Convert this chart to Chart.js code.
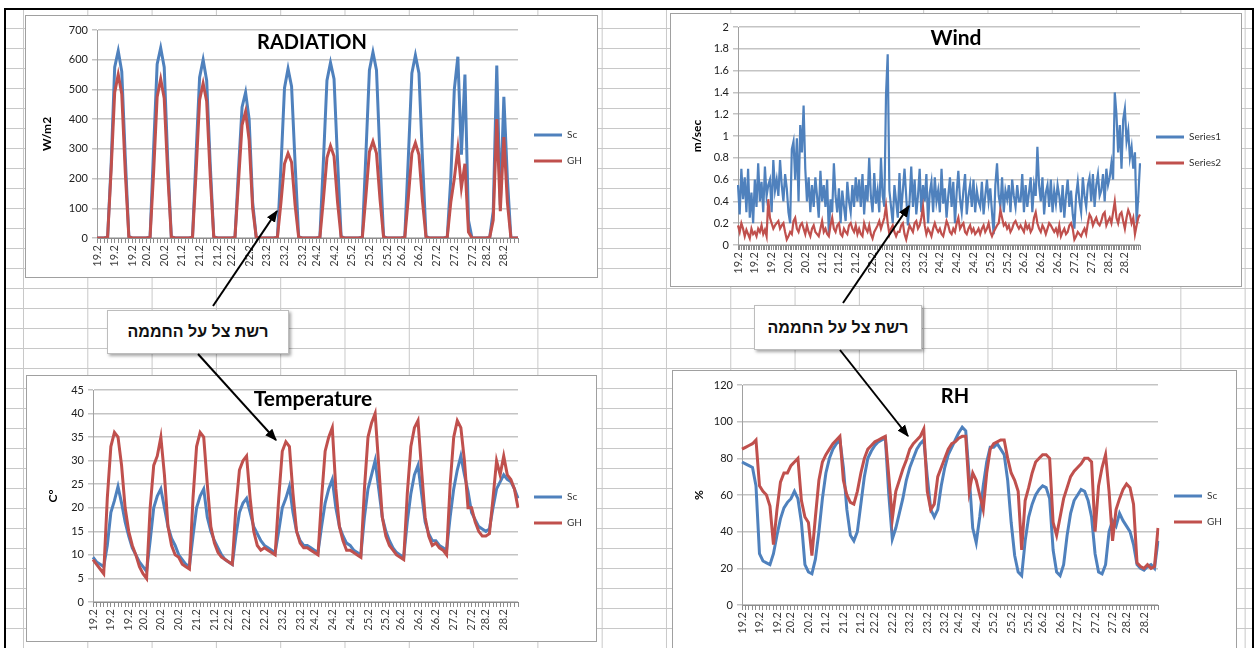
<!DOCTYPE html>
<html>
<head>
<meta charset="utf-8">
<script src="https://cdn.jsdelivr.net/npm/chart.js@4.4.1/dist/chart.umd.min.js"></script>
<style>
  html, body { margin: 0; padding: 0; background: #fff; }
  body { width: 1260px; height: 648px; position: relative; overflow: hidden; font-family: Lato, "Liberation Sans", sans-serif; }
  #sheet { position: absolute; left: 4px; top: 8px; width: 1246px; height: 660px; border: 2px solid #000; border-bottom: none;
    background-color: #fff;
    background-image: linear-gradient(to right, #c8c8c8 1px, transparent 1px), linear-gradient(to bottom, #c8c8c8 1px, transparent 1px);
    background-size: 64.3px 20px; background-position: 17px 18px; }
  .box { position: absolute; border: 1px solid #a0a0a0; background: #fff; z-index: 1; }
  .box canvas { display: block; }
  .ttl { position: absolute; z-index: 2; font-weight: bold; color: #000; transform: translateX(-50%); white-space: nowrap; }
  .note { position: absolute; z-index: 3; background: #fff; border: 1px solid #bdbdbd; box-shadow: 2px 2px 3px rgba(0,0,0,0.35);
    font-family: "Liberation Sans", "DejaVu Sans", sans-serif; font-weight: bold; font-size: 16px; color: #111; text-align: center; direction: rtl; }
  svg { position: absolute; left: 0; top: 0; z-index: 4; }
</style>
</head>
<body>
<div id="sheet"></div>

<div class="box" style="left:25px;top:15px;"><canvas id="rad" width="571" height="261"></canvas></div>
<div class="box" style="left:670px;top:13px;"><canvas id="wind" width="570" height="272"></canvas></div>
<div class="box" style="left:26px;top:375px;"><canvas id="temp" width="569" height="265"></canvas></div>
<div class="box" style="left:672px;top:370px;"><canvas id="rh" width="563" height="288"></canvas></div>

<div class="ttl" style="left:312px;top:31px;font-size:20px;line-height:20px;">RADIATION</div>
<div class="ttl" style="left:956px;top:26px;font-size:21px;line-height:21px;">Wind</div>
<div class="ttl" style="left:313px;top:387px;font-size:21px;line-height:21px;">Temperature</div>
<div class="ttl" style="left:955px;top:385px;font-size:20px;line-height:20px;">RH</div>

<div class="note" style="left:107px;top:310px;width:180px;height:42px;line-height:42px;">רשת צל על החממה</div>
<div class="note" style="left:754px;top:305px;width:166px;height:43px;line-height:43px;">רשת צל על החממה</div>

<svg width="1260" height="648">
  <defs>
    <marker id="head" viewBox="0 0 10 10" refX="9" refY="5" markerWidth="6" markerHeight="6" orient="auto">
      <path d="M0,1 L10,5 L0,9 z" fill="#000"/>
    </marker>
  </defs>
  <g stroke="#000" stroke-width="2" marker-end="url(#head)">
    <line x1="213" y1="306" x2="277" y2="211"/>
    <line x1="198" y1="354" x2="276" y2="440"/>
    <line x1="843" y1="303" x2="909" y2="206"/>
    <line x1="840" y1="350" x2="908" y2="436"/>
  </g>
</svg>

<script>
// radiation, temperature, RH: 12 readings a day (every 2 hours), 19.2 - 28.2
const RAD_SC = [
  0,0,0,3,250,575,630,560,270,6,0,0,
  0,0,0,4,300,585,640,575,260,5,0,0,
  0,0,0,3,280,540,600,530,250,5,0,0,
  0,0,0,2,230,440,490,400,120,4,0,0,
  0,0,0,3,240,505,570,510,250,5,0,0,
  0,0,0,3,260,530,590,535,260,6,0,0,
  0,0,0,4,280,565,625,565,270,6,0,0,
  0,0,0,4,270,555,615,555,265,6,0,0,
  0,0,0,3,200,500,610,280,550,60,0,0,
  0,0,0,2,90,580,110,475,200,0,0,0
];
const RAD_GH = [
  0,0,0,2,230,490,550,485,220,4,0,0,
  0,0,0,2,220,475,535,470,215,4,0,0,
  0,0,0,2,220,465,520,460,210,4,0,0,
  0,0,0,2,190,380,425,330,100,3,0,0,
  0,0,0,2,120,250,285,255,110,3,0,0,
  0,0,0,2,130,270,310,275,120,3,0,0,
  0,0,0,2,140,290,325,285,130,3,0,0,
  0,0,0,2,135,285,320,280,125,3,0,0,
  0,0,0,2,120,200,300,170,250,20,0,0,
  0,0,0,2,60,400,90,340,120,0,0,0
];

// wind: 24 readings a day (hourly)
const WIND_S1 = [
  0.55,0.28,0.70,0.42,0.62,0.30,0.70,0.25,0.48,0.20,0.60,0.35,0.75,0.40,0.58,0.30,0.72,0.45,0.55,0.60,0.30,0.78,0.50,0.60,
  0.45,0.78,0.55,0.40,0.65,0.52,0.30,0.20,0.88,0.95,0.60,0.98,0.40,1.10,0.85,1.28,0.70,0.40,0.62,0.30,0.55,0.35,0.62,0.45,
  0.25,0.68,0.40,0.55,0.35,0.60,0.10,0.42,0.30,0.75,0.45,0.30,0.52,0.20,0.50,0.35,0.22,0.58,0.40,0.30,0.55,0.35,0.62,0.40,
  0.60,0.35,0.65,0.28,0.55,0.40,0.80,0.45,0.30,0.66,0.38,0.50,0.30,0.80,0.45,0.35,1.38,1.75,0.50,0.35,0.20,0.55,0.40,0.25,
  0.66,0.30,0.50,0.70,0.45,0.18,0.40,0.72,0.35,0.60,0.28,0.45,0.70,0.30,0.55,0.40,0.65,0.20,0.48,0.58,0.30,0.62,0.40,0.50,
  0.30,0.70,0.38,0.52,0.25,0.45,0.62,0.35,0.58,0.20,0.48,0.68,0.42,0.30,0.50,0.65,0.28,0.45,0.55,0.35,0.60,0.30,0.50,0.40,
  0.35,0.58,0.28,0.45,0.60,0.40,0.52,0.30,0.10,0.55,0.75,0.45,0.35,0.62,0.30,0.50,0.42,0.55,0.30,0.60,0.45,0.35,0.55,0.40,
  0.40,0.65,0.30,0.55,0.35,0.48,0.62,0.30,0.55,0.45,0.90,0.55,0.40,0.62,0.28,0.48,0.55,0.35,0.60,0.30,0.50,0.38,0.55,0.45,
  0.30,0.55,0.25,0.45,0.60,0.35,0.50,0.28,0.15,0.45,0.58,0.40,0.30,0.62,0.45,0.35,0.55,0.62,0.40,0.65,0.35,0.55,0.65,0.45,
  0.50,0.65,0.40,0.70,0.55,0.62,0.75,0.60,1.40,1.20,0.85,1.10,0.70,1.15,1.25,0.95,1.05,0.80,0.90,0.70,0.85,0.20,0.45,0.75
];
const WIND_S2 = [
  0.18,0.12,0.20,0.15,0.08,0.14,0.10,0.06,0.15,0.10,0.12,0.08,0.15,0.12,0.18,0.10,0.14,0.08,0.42,0.25,0.20,0.15,0.18,0.20,
  0.22,0.15,0.18,0.20,0.12,0.05,0.08,0.12,0.10,0.22,0.25,0.15,0.12,0.18,0.20,0.15,0.10,0.18,0.12,0.08,0.15,0.18,0.12,0.10,
  0.08,0.15,0.22,0.12,0.15,0.10,0.08,0.18,0.25,0.15,0.12,0.18,0.20,0.10,0.08,0.15,0.12,0.10,0.18,0.20,0.15,0.12,0.18,0.10,
  0.15,0.10,0.08,0.20,0.15,0.12,0.18,0.10,0.06,0.12,0.15,0.18,0.22,0.15,0.20,0.25,0.36,0.20,0.10,0.15,0.18,0.12,0.08,0.12,
  0.12,0.18,0.20,0.10,0.05,0.12,0.18,0.15,0.12,0.20,0.22,0.15,0.18,0.25,0.35,0.18,0.10,0.15,0.12,0.08,0.15,0.20,0.15,0.12,
  0.15,0.10,0.08,0.15,0.22,0.18,0.12,0.10,0.15,0.12,0.20,0.25,0.15,0.18,0.20,0.12,0.10,0.15,0.18,0.12,0.15,0.10,0.12,0.15,
  0.10,0.15,0.18,0.12,0.15,0.20,0.12,0.08,0.12,0.15,0.18,0.20,0.32,0.25,0.18,0.20,0.15,0.18,0.12,0.15,0.20,0.22,0.18,0.15,
  0.18,0.15,0.12,0.20,0.15,0.18,0.12,0.15,0.25,0.30,0.20,0.15,0.12,0.18,0.15,0.10,0.15,0.20,0.18,0.15,0.12,0.15,0.10,0.18,
  0.08,0.12,0.15,0.10,0.12,0.18,0.20,0.15,0.05,0.08,0.12,0.10,0.08,0.12,0.15,0.10,0.20,0.28,0.25,0.18,0.22,0.25,0.20,0.18,
  0.22,0.28,0.30,0.18,0.22,0.25,0.20,0.30,0.40,0.25,0.20,0.28,0.30,0.22,0.15,0.25,0.32,0.28,0.20,0.25,0.10,0.18,0.25,0.28
];

const TEMP_SC = [
  9.5,8.5,8,7.5,12,19,21.5,24.5,21,17,14,11.5,
  10,8.5,7.5,6.5,13,20,22.5,24,20,16,13.5,12,
  10,9,8,7.5,14,20,22.5,24,18,15,13,11.5,
  10,9,8.5,8,14,19,21,22,19,16,14.5,13,
  12,11.5,11,10.5,15,20,22,24.5,19,15,13,12,
  12,11.5,11,10.5,16,21,24,26,20,16,14,12.5,
  12,11,10.5,10,18,24,27,30,24,18,15,13,
  11.5,10.5,10,9.5,17,23,27,29,23,17,14.5,13,
  13,12,11.5,11,18,24,28,31,27,23.5,19,17.5,
  16,15.5,15,15.5,20,24,25.5,27,26,25.5,24,22
];
const TEMP_GH = [
  9,8,7,6,22,33,36,35,29,20,15,12,
  10,7.5,6,5,20,29,31,35,27,16,12,10,
  9.5,8,7.5,7,22,33,36,35,25,16,12.5,10.5,
  9.5,9,8.5,8,20,28,30,31,22,15,12,11,
  11.5,11,10.5,10,22,32,34,33,23,15,12.5,11.5,
  11.5,11,10.5,10,22,32,35,37,24,16,13,11,
  11,10.5,10,9.5,24,35,38,40,29,18,14,12,
  11,10,9.5,9,23,33,37,38.5,28,18,14,12,
  12.5,11.5,11,10,25,35,38.5,37,30,20,20,17,
  15,14,14,14.5,22,30,27,31,27,26,24,20
];

const RH_SC = [
  78,77,76,75,65,28,24,23,22,28,38,47,
  53,56,58,62,58,45,22,18,17,25,40,58,
  72,80,85,88,90,75,52,38,35,40,55,70,
  80,84,87,89,90,91,60,36,42,50,58,68,
  75,80,85,88,90,70,52,48,52,65,75,82,
  86,90,94,97,95,70,42,34,48,65,78,86,
  86,88,85,82,68,45,27,18,16,35,48,55,
  60,63,65,64,58,30,18,16,22,38,50,57,
  60,63,62,57,48,28,18,17,22,40,46,43,
  50,46,43,40,33,22,20,19,21,22,20,35
];
const RH_GH = [
  85,86,87,88,90,65,62,60,54,33,52,67,
  72,72,76,78,80,57,48,45,27,48,68,78,
  82,85,88,90,92,68,60,56,55,62,72,80,
  85,87,89,90,91,92,70,47,62,68,74,79,
  85,88,90,92,96,62,52,55,70,75,80,85,
  88,89,91,92,92,62,72,68,60,52,72,85,
  88,89,90,90,80,72,68,62,30,57,64,72,
  78,80,82,82,80,45,38,48,58,64,70,73,
  75,77,80,80,78,40,65,75,82,62,35,52,
  58,63,66,64,55,23,21,20,22,20,21,42
];

// x axis labels as they show under each chart
const RAD_TICKS = ['19.2','19.2','19.2','20.2','20.2','21.2','21.2','21.2','22.2','22.2','23.2','23.2','23.2',
  '24.2','24.2','25.2','25.2','25.2','26.2','26.2','27.2','27.2','27.2','28.2','28.2'];
const WIND_TICKS = ['19.2','19.2','19.2','20.2','20.2','21.2','21.2','21.2','22.2','22.2','23.2','23.2',
  '24.2','24.2','24.2','25.2','25.2','26.2','26.2','26.2','27.2','27.2','28.2','28.2'];
const TEMP_TICKS = ['19.2','19.2','19.2','20.2','20.2','20.2','21.2','21.2','22.2','22.2','22.2','23.2','23.2',
  '24.2','24.2','24.2','25.2','25.2','26.2','26.2','26.2','27.2','27.2','28.2','28.2'];
const RH_TICKS = RAD_TICKS;

// y axis: min, max, step
const RAD_Y = [0, 700, 100];
const WIND_Y = [0, 2, 0.2];
const TEMP_Y = [0, 45, 5];
const RH_Y = [0, 120, 20];

const BLUE = '#4f81bd';
const RED = '#c0504d';

Chart.defaults.font.family = "Lato, 'Liberation Sans', sans-serif";

function tickLabels(ticks, n) { // spread the visible labels over all points
  const labels = new Array(n).fill('');
  ticks.forEach((t, k) => { labels[Math.round(k * n / ticks.length)] = t; });
  return labels;
}

function legendWidth(w) { // fixed legend width so the plot ends where it should
  return {
    id: 'legendWidth',
    afterInit(chart) {
      const lg = chart.legend;
      const fit = lg.fit;
      lg.fit = function () { fit.call(this); this.width = w; };
    }
  };
}

function makeChart(id, o) {
  return new Chart(document.getElementById(id), {
    type: 'line',
    data: {
      labels: tickLabels(o.ticks, o.series[0].length),
      datasets: [
        { label: o.names[0], data: o.series[0], borderColor: BLUE, backgroundColor: BLUE, order: 1 },
        { label: o.names[1], data: o.series[1], borderColor: RED, backgroundColor: RED, order: 0 }
      ]
    },
    options: {
      responsive: false,
      animation: false,
      devicePixelRatio: 1,
      elements: { point: { radius: 0 }, line: { borderWidth: o.lw, tension: 0 } },
      layout: { padding: { left: 0, right: 0, top: o.pad[0], bottom: o.pad[1] + 10 } },
      scales: {
        x: {
          grid: { drawOnChartArea: false, color: '#8c8c8c', tickLength: 5 },
          border: { color: '#8c8c8c' },
          ticks: { autoSkip: false, minRotation: 90, maxRotation: 90, padding: 2, color: '#404040', font: { size: 11 } },
          afterFit: s => { s.height = 28; } // labels hang below into the padding
        },
        y: {
          min: o.y[0], max: o.y[1],
          ticks: { stepSize: o.y[2], color: '#202020', font: { size: 11 }, padding: 4,
            callback: v => String(Math.round(v * 10) / 10) },
          grid: { color: '#c4c4c4', lineWidth: 1.5, tickLength: 5 },
          border: { color: '#a0a0a0' },
          title: { display: true, text: o.unit, color: '#000', font: { size: 12, weight: 'bold' }, padding: { top: o.titlePad, bottom: 0 } },
          afterFit: s => { s.width = o.yWidth; }
        }
      },
      plugins: {
        legend: {
          position: 'right',
          labels: {
            boxWidth: 28, boxHeight: 3, padding: 16, color: '#333', font: { size: 10 },
            sort: (a, b) => a.datasetIndex - b.datasetIndex,
            generateLabels: chart => Chart.defaults.plugins.legend.labels.generateLabels(chart)
              .map(l => Object.assign(l, { lineWidth: 0 }))
          }
        },
        tooltip: { enabled: false }
      }
    },
    plugins: [legendWidth(o.legendW)]
  });
}

makeChart('rad', { series: [RAD_SC, RAD_GH], names: ['Sc', 'GH'], ticks: RAD_TICKS, y: RAD_Y, unit: 'W/m2',
  pad: [14, 1], yWidth: 71, titlePad: 14, legendW: 79, lw: 3 });
makeChart('wind', { series: [WIND_S1, WIND_S2], names: ['Series1', 'Series2'], ticks: WIND_TICKS, y: WIND_Y, unit: 'm/sec',
  pad: [13, 3], yWidth: 67, titlePad: 19, legendW: 101, lw: 2.2 });
makeChart('temp', { series: [TEMP_SC, TEMP_GH], names: ['Sc', 'GH'], ticks: TEMP_TICKS, y: TEMP_Y, unit: 'C°',
  pad: [14, 1], yWidth: 66, titlePad: 19, legendW: 78, lw: 3 });
makeChart('rh', { series: [RH_SC, RH_GH], names: ['Sc', 'GH'], ticks: RH_TICKS, y: RH_Y, unit: '%',
  pad: [14, 16], yWidth: 69, titlePad: 19, legendW: 78, lw: 3 });
</script>
</body>
</html>
